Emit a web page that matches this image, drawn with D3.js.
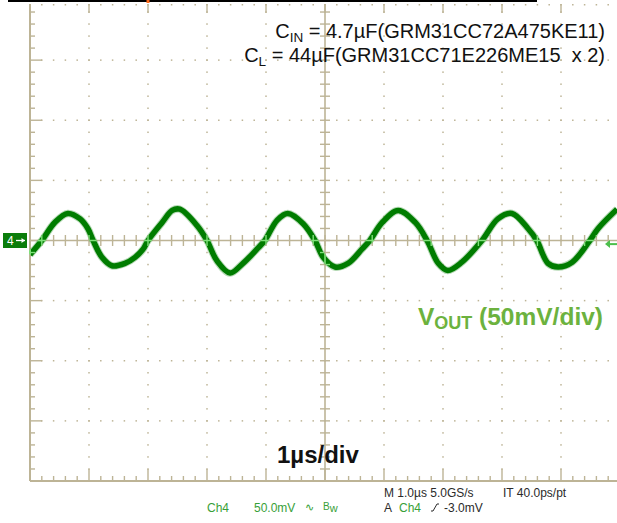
<!DOCTYPE html>
<html><head><meta charset="utf-8">
<script src="https://cdn.jsdelivr.net/npm/d3@7"></script>
<style>
body{margin:0;background:#fff}
svg{display:block;font-family:"Liberation Sans",Arial,sans-serif}
</style>
</head><body><svg id="c" width="617" height="523"></svg>
<script>
// ---- data (time in µs, VOUT ripple in mV) ----
const timeUs = [0.00,0.20,0.42,0.64,0.85,0.98,1.07,1.22,1.39,1.61,1.78,1.92,2.00,2.24,2.41,2.54,2.83,3.00,3.17,3.39,3.61,3.85,3.98,4.19,4.37,4.63,4.83,4.97,5.17,5.39,5.63,5.76,5.97,6.24,6.53,6.73,6.92,7.08,7.32,7.66,7.93,8.17,8.44,8.59,8.78,8.95,9.19,9.46,9.63,9.95];
const voutMv = [-11.7,0,15,22.5,18,10,0,-14,-21,-19,-14,-7,0,15,25,26,12.5,0,-17,-27,-19,-7,0,17,22.5,14,0,-14,-22,-19,-7,0,15,25,15,0,-19,-25,-18,0,18,22.5,10,0,-19,-22,-18,-2,10,26];
const timeDomain = [0, 10];          // 10 divisions, 1 µs/div
const voltDomain = [-200, 200];      // 8 divisions, 50 mV/div
const triggerLevelMv = -3.0;
const triggerTimeUs = 2.0;
const capLine1 = {main: "C", sub: "IN", rest: " = 4.7µF(GRM31CC72A475KE11)"};
const capLine2 = {main: "C", sub: "L", rest: " = 44µF(GRM31CC71E226ME15  x 2)"};
const voutLabel = {main: "V", sub: "OUT", rest: " (50mV/div)"};
const timeLabel = "1µs/div";
const statusGreen = ["Ch4", "50.0mV"];
const statusBlack1 = ["M 1.0µs 5.0GS/s", "IT 40.0ps/pt"];
const statusLine2 = ["A", "Ch4", "-3.0mV"];

const svg = d3.select("#c");
const x = d3.scaleLinear().domain(timeDomain).range([30, 620]);
const y = d3.scaleLinear().domain(voltDomain).range([481, 0]);
const GRID = "#bdb496";
const TRACE = "#007c00";

// ---- graticule ----
const g = svg.append("g");
function graticule(sel, color, dotsToo) {
  const xMinor = d3.range(timeDomain[0], timeDomain[1] + 1e-9, 0.2);
  const yMinor = d3.range(voltDomain[0], voltDomain[1] + 1e-9, 10);
  const xMajor = d3.range(1, 10);
  const yMajor = [-150, -100, -50, 50, 100, 150];
  if (dotsToo) {
    xMajor.filter(d => d !== 5).forEach(t => {
      sel.selectAll(null).data(yMinor.slice(1, -1)).join("rect")
        .attr("x", x(t) - 0.75).attr("y", d => y(d) - 0.75)
        .attr("width", 1.5).attr("height", 1.5).attr("fill", color);
    });
    yMajor.forEach(v => {
      sel.selectAll(null).data(xMinor.slice(1)).join("rect")
        .attr("x", d => x(d) - 0.75).attr("y", y(v) - 0.75)
        .attr("width", 1.5).attr("height", 1.5).attr("fill", color);
    });
    // faint top dotted row
    sel.selectAll(null).data(xMinor.slice(1)).join("rect")
      .attr("x", d => x(d) - 0.75).attr("y", y(200) + 4)
      .attr("width", 1.5).attr("height", 1.5).attr("fill", color);
  }
  sel.append("line").attr("x1", x(0)).attr("x2", x(10.5)).attr("y1", y(0)).attr("y2", y(0))
    .attr("stroke", color).attr("stroke-width", 1.6);
  sel.selectAll(null).data(xMinor.slice(1)).join("line")
    .attr("x1", d => x(d)).attr("x2", d => x(d))
    .attr("y1", y(0) - 5.5).attr("y2", y(0) + 5.5)
    .attr("stroke", color).attr("stroke-width", 1.4);
  sel.append("line").attr("x1", x(5)).attr("x2", x(5)).attr("y1", y(200) + 4).attr("y2", y(-200))
    .attr("stroke", color).attr("stroke-width", 1.6);
  sel.selectAll(null).data(yMinor.slice(1, -1)).join("line")
    .attr("x1", x(5) - 5).attr("x2", x(5) + 5)
    .attr("y1", d => y(d)).attr("y2", d => y(d))
    .attr("stroke", color).attr("stroke-width", 1.4);
  sel.append("line").attr("x1", x(0)).attr("x2", x(0)).attr("y1", y(200) + 4).attr("y2", y(-200))
    .attr("stroke", color).attr("stroke-width", 2);
  sel.selectAll(null).data(yMinor.slice(1, -1)).join("line")
    .attr("x1", x(0)).attr("x2", d => x(0) + (d % 50 === 0 ? 12 : 5))
    .attr("y1", d => y(d)).attr("y2", d => y(d))
    .attr("stroke", color).attr("stroke-width", 1.4);
  sel.append("line").attr("x1", x(0)).attr("x2", x(10.5)).attr("y1", y(-200)).attr("y2", y(-200))
    .attr("stroke", color).attr("stroke-width", 2);
  sel.selectAll(null).data(xMinor.slice(1)).join("line")
    .attr("x1", d => x(d)).attr("x2", d => x(d))
    .attr("y1", y(-200)).attr("y2", d => y(-200) - (Math.abs(d - Math.round(d)) < 1e-6 ? 12 : 5))
    .attr("stroke", color).attr("stroke-width", 1.4);
  sel.selectAll(null).data(xMajor).join("line")
    .attr("x1", d => x(d)).attr("x2", d => x(d))
    .attr("y1", y(200) + 4).attr("y2", y(200) + 13)
    .attr("stroke", color).attr("stroke-width", 1.4);
}
graticule(g, GRID, true);

// ---- trace ----
const pts = timeUs.map((t, i) => [t, voutMv[i]]);
const line = d3.line().x(d => x(d[0])).y(d => y(d[1])).curve(d3.curveCatmullRom.alpha(0.5));
const defs = svg.append("defs");
const mask = defs.append("mask").attr("id", "traceMask").attr("maskUnits", "userSpaceOnUse")
  .attr("x", 0).attr("y", 0).attr("width", 617).attr("height", 523);
mask.append("path").attr("d", line(pts)).attr("fill", "none").attr("stroke", "#fff").attr("stroke-width", 6.5);
defs.append("clipPath").attr("id", "plotClip").append("rect")
  .attr("x", x(0)).attr("y", 0).attr("width", 617 - x(0)).attr("height", y(-200));

const tg = svg.append("g").attr("clip-path", "url(#plotClip)");
tg.append("path").attr("d", line(pts)).attr("fill", "none")
  .attr("stroke", "#2f962f").attr("stroke-width", 7.5).attr("stroke-opacity", 0.35)
  .attr("stroke-linejoin", "round");
tg.append("path").attr("d", line(pts)).attr("fill", "none")
  .attr("stroke", TRACE).attr("stroke-width", 5.5).attr("stroke-linejoin", "round");
const over = svg.append("g").attr("mask", "url(#traceMask)");
graticule(over, "#7fe07a", false);

// ---- top record bar & trigger position ----
svg.append("rect").attr("x", 8).attr("y", 0).attr("width", 529).attr("height", 2).attr("fill", "#000");
svg.append("rect").attr("x", x(triggerTimeUs) - 1.5).attr("y", 0).attr("width", 3).attr("height", 3).attr("fill", "#ff6a1a");

// ---- channel marker (left) ----
const cy = y(0);
svg.append("rect").attr("x", 3).attr("y", cy - 7.5).attr("width", 24).attr("height", 15).attr("fill", "#0b7d0b");
svg.append("text").attr("x", 7).attr("y", cy + 4.5).attr("fill", "#fff").attr("font-size", 12).text("4");
svg.append("line").attr("x1", 16).attr("x2", 25).attr("y1", cy).attr("y2", cy).attr("stroke", "#fff").attr("stroke-width", 1.3);
svg.append("path").attr("d", `M25,${cy} l-3.5,-2.5 v5 z`).attr("fill", "#fff");
const ty = y(triggerLevelMv);
svg.append("line").attr("x1", 609).attr("x2", 617).attr("y1", ty).attr("y2", ty).attr("stroke", "#4cbf4c").attr("stroke-width", 2);
svg.append("path").attr("d", `M605,${ty} l5,-4 v8 z`).attr("fill", "#4cbf4c");

// ---- annotation text ----
function subText(sel, xPos, yPos, o, size, subSize, subDy, attrs) {
  const t = sel.append("text").attr("x", xPos).attr("y", yPos).attr("font-size", size)
    .style("white-space", "pre");
  Object.entries(attrs).forEach(([k, v]) => t.attr(k, v));
  t.append("tspan").text(o.main);
  t.append("tspan").attr("font-size", subSize).attr("dy", subDy).text(o.sub);
  t.append("tspan").attr("dy", -subDy).text(o.rest);
  return t;
}
subText(svg, 605, 38, capLine1, 20, 13.5, 4, {"text-anchor": "end", "fill": "#111"});
subText(svg, 605, 62, capLine2, 20, 13.5, 4, {"text-anchor": "end", "fill": "#111"});
subText(svg, 603, 325, voutLabel, 24.5, 18, 4, {"text-anchor": "end", "fill": "#6cb23e", "font-weight": "bold"});
svg.append("text").attr("x", 277).attr("y", 463).attr("font-size", 24).attr("font-weight", "bold")
  .attr("fill", "#111").text(timeLabel);

// ---- status line ----
const sG = "#38a038", sK = "#2a2a2a";
svg.append("text").attr("x", 207).attr("y", 512).attr("font-size", 12).attr("fill", sG).text(statusGreen[0]);
svg.append("text").attr("x", 254).attr("y", 512).attr("font-size", 12).attr("fill", sG).text(statusGreen[1]);
svg.append("text").attr("x", 305).attr("y", 511).attr("font-size", 11).attr("fill", sG).text("∿");
const bw = svg.append("text").attr("x", 323).attr("y", 512).attr("fill", sG);
bw.append("tspan").attr("font-size", 10).attr("dy", -2).text("B");
bw.append("tspan").attr("font-size", 11).attr("dy", 2).text("w");
svg.append("text").attr("x", 384).attr("y", 497).attr("font-size", 12).attr("fill", sK).text(statusBlack1[0]);
svg.append("text").attr("x", 503).attr("y", 497).attr("font-size", 12).attr("fill", sK).text(statusBlack1[1]);
svg.append("text").attr("x", 384).attr("y", 512).attr("font-size", 12).attr("fill", sK).text(statusLine2[0]);
svg.append("text").attr("x", 399).attr("y", 512).attr("font-size", 12).attr("fill", sG).text(statusLine2[1]);
svg.append("path").attr("d", "M431,511 h2 l4,-7 h2").attr("fill", "none").attr("stroke", sK).attr("stroke-width", 1);
svg.append("text").attr("x", 444).attr("y", 512).attr("font-size", 12).attr("fill", sK).text(statusLine2[2]);
</script>
</body></html>
